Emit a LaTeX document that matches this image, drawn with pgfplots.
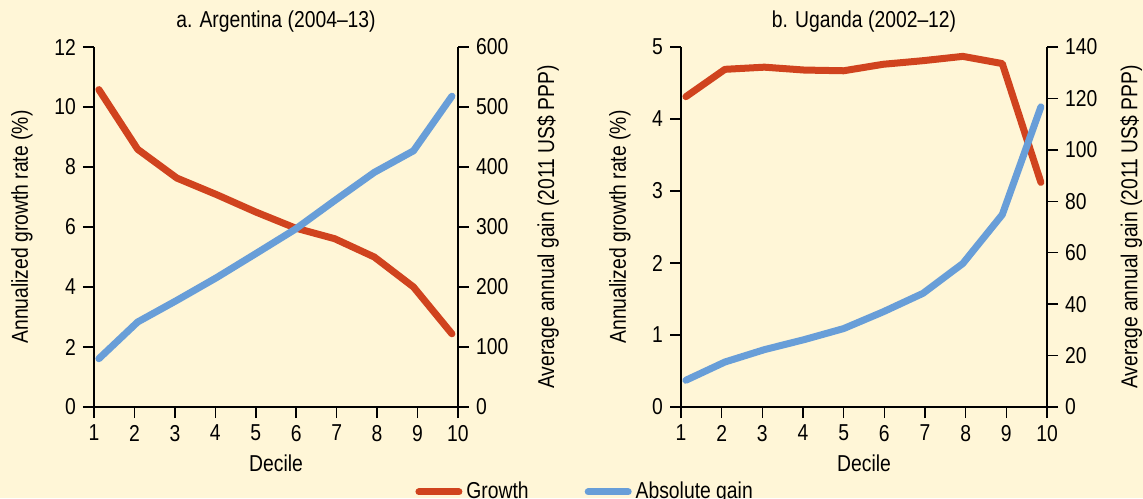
\documentclass[border=0pt]{standalone}
\usepackage{pgfplots}
\pgfplotsset{compat=1.18}
\usepackage{fontspec}
\setmainfont{Liberation Sans}[FakeStretch=0.84]
\definecolor{bg}{RGB}{255,246,215}
\definecolor{cred}{RGB}{208,67,30}
\definecolor{cblue}{RGB}{104,158,216}
\pgfplotsset{
  base/.style={
    scale only axis,
    font=\fontsize{11.5}{13}\selectfont,
    /pgf/number format/assume math mode=true,
    xmin=1, xmax=10, xtick={1,...,10},
    tick align=outside, major tick length=5.5pt,
    every tick/.style={black, line width=0.75pt},
    axis line style={black, line width=0.75pt},
    axis x line*=bottom,
    clip=false,
    every axis plot/.append style={line width=3.5pt, line cap=round, line join=round},
    xlabel style={at={(axis description cs:0.5,-0.155)}, anchor=center},
    title style={at={(axis description cs:0.5,1.036)}, anchor=center},
  },
  rightax/.style={
    axis x line=none, axis y line*=right,
  },
}
\begin{document}
\begin{tikzpicture}
\fill[bg] (0,0) rectangle (571.5pt,249pt);
\useasboundingbox (0,0) rectangle (571.5pt,249pt);
% ---------- Argentina ----------
\begin{axis}[base, at={(47pt,45.5pt)}, anchor=south west, width=182pt, height=180pt,
  axis y line*=left, ymin=0, ymax=12, ytick={0,2,...,12},
  ylabel={Annualized growth rate (\%)},
  ylabel style={at={(axis description cs:-0.198,0.5)}, anchor=center},
  xlabel={Decile}, title={a. Argentina (2004--13)},
  legend style={at={(axis description cs:0.882,-0.236)}, anchor=west, draw=none, fill=none,
    inner sep=0pt, legend columns=2, font=\fontsize{11.5}{13}\selectfont,
    /tikz/every even column/.append style={column sep=26pt}},
  legend image code/.code={\draw[#1] (0pt,0pt) -- (20pt,0pt);},
]
\addplot[cred] coordinates {(1.12,10.58) (2.08,8.59) (3.05,7.63) (4.03,7.08) (5.0,6.5) (5.97,5.97) (6.95,5.61) (7.93,5.0) (8.9,4.0) (9.85,2.44)};
\addlegendentry{Growth}
\addlegendimage{cblue, line width=3.5pt, line cap=round}
\addlegendentry{Absolute gain}
\end{axis}
\begin{axis}[base, rightax, at={(47pt,45.5pt)}, anchor=south west, width=182pt, height=180pt,
  ymin=0, ymax=600, ytick={0,100,...,600},
  ylabel={Average annual gain (2011 US\$ PPP)},
  ylabel style={at={(axis description cs:1.247,0.5)}, anchor=center},
]
\addplot[cblue] coordinates {(1.12,80.5) (2.08,141.7) (3.05,177.8) (4.03,215.6) (5.0,255.6) (5.97,296) (6.95,344) (7.93,391) (8.9,427) (9.85,518)};
\end{axis}
% ---------- Uganda ----------
\begin{axis}[base, at={(340.5pt,45.5pt)}, anchor=south west, width=183pt, height=180pt,
  axis y line*=left, ymin=0, ymax=5, ytick={0,1,...,5},
  ylabel={Annualized growth rate (\%)},
  ylabel style={at={(axis description cs:-0.167,0.5)}, anchor=center},
  xlabel={Decile}, title={b. Uganda (2002--12)},
]
\addplot[cred] coordinates {(1.12,4.31) (2.08,4.69) (3.05,4.72) (4.03,4.68) (5.0,4.67) (5.97,4.76) (6.95,4.81) (7.93,4.87) (8.9,4.77) (9.85,3.12)};
\end{axis}
\begin{axis}[base, rightax, at={(340.5pt,45.5pt)}, anchor=south west, width=183pt, height=180pt,
  ymin=0, ymax=140, ytick={0,20,...,140},
  ylabel={Average annual gain (2011 US\$ PPP)},
  ylabel style={at={(axis description cs:1.23,0.5)}, anchor=center},
]
\addplot[cblue] coordinates {(1.12,10.4) (2.08,17.5) (3.05,22.3) (4.03,26.2) (5.0,30.5) (5.97,37) (6.95,44.2) (7.93,55.8) (8.9,74.8) (9.85,116.7)};
\end{axis}
\end{tikzpicture}
\end{document}
